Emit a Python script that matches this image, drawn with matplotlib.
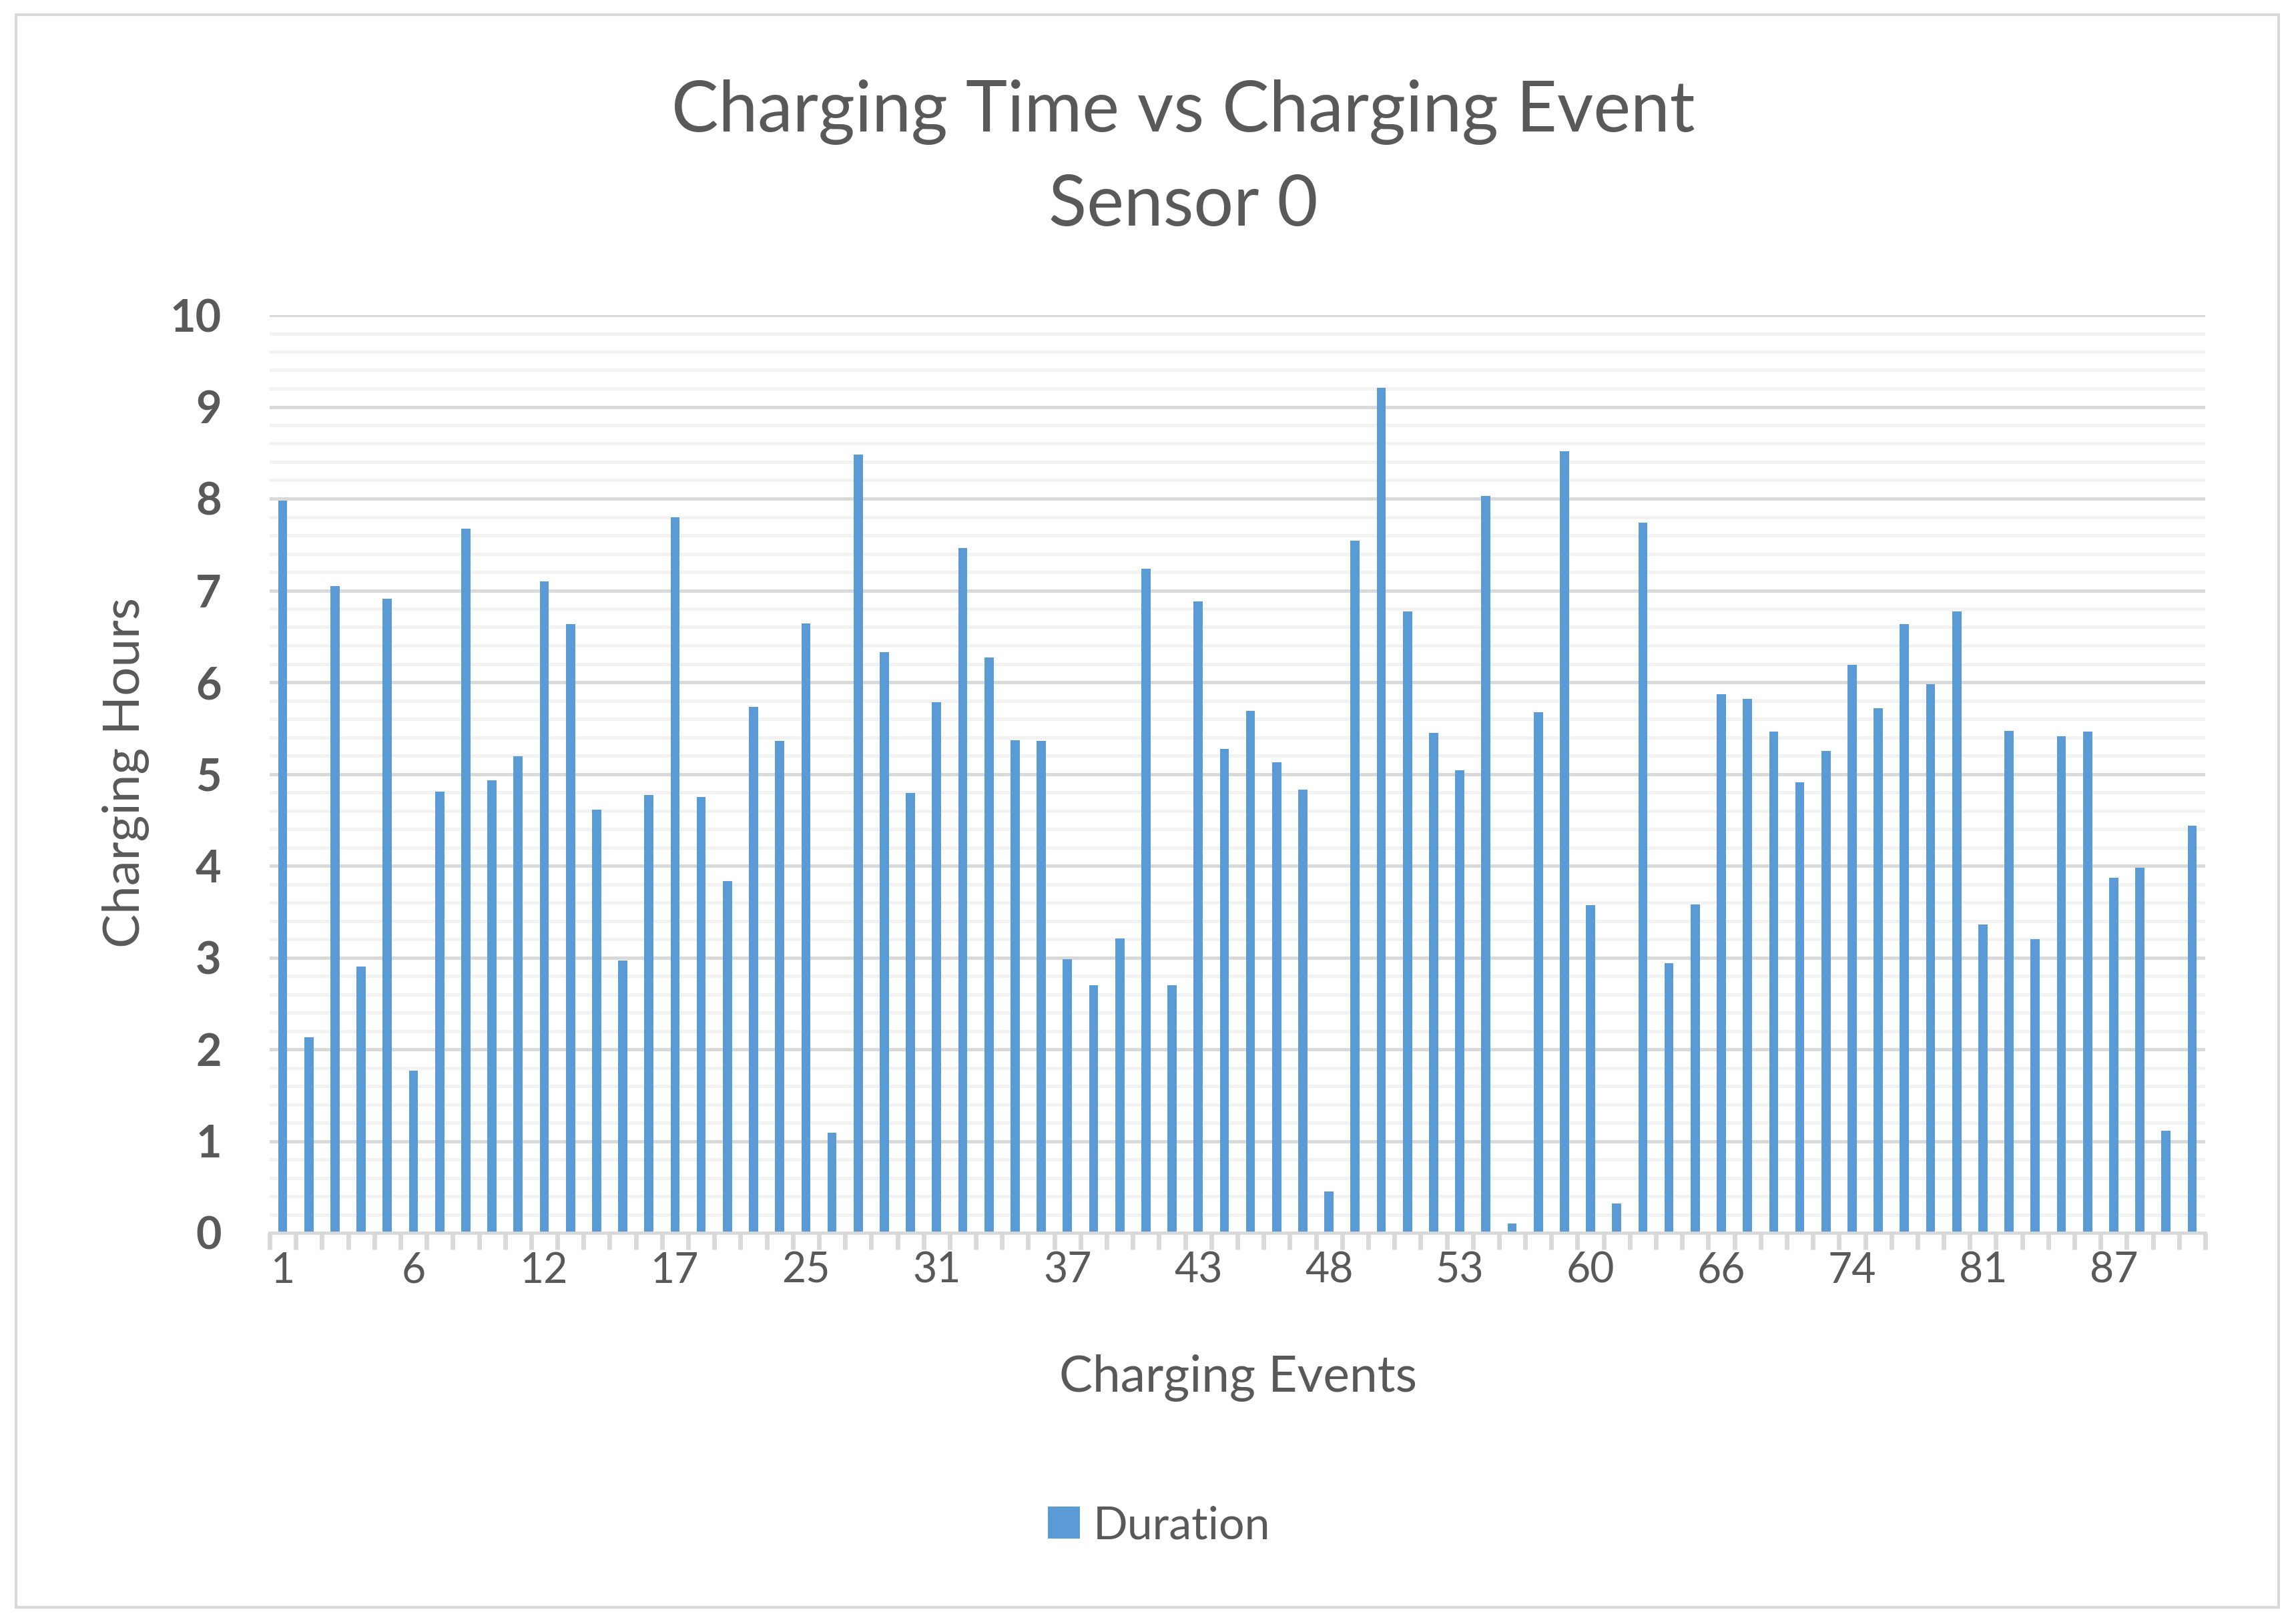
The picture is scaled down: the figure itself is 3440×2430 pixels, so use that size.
import matplotlib.pyplot as plt
from matplotlib.patches import Rectangle
from matplotlib.ticker import MultipleLocator

plt.rcParams['font.family'] = ['Lato', 'DejaVu Sans']

# Charging hours per event (74 events)
duration = [
    7.98, 2.13, 7.05, 2.90, 6.91, 1.77, 4.81, 7.67, 4.93, 5.19,
    7.10, 6.63, 4.61, 2.97, 4.77, 7.80, 4.75, 3.83, 5.73, 5.36,
    6.64, 1.09, 8.48, 6.33, 4.79, 5.78, 7.46, 6.27, 5.37, 5.36,
    2.98, 2.70, 3.21, 7.24, 2.70, 6.88, 5.27, 5.69, 5.13, 4.83,
    0.45, 7.54, 9.21, 6.77, 5.45, 5.04, 8.03, 0.10, 5.67, 8.52,
    3.57, 0.32, 7.74, 2.94, 3.58, 5.87, 5.82, 5.46, 4.91, 5.25,
    6.19, 5.72, 6.63, 5.98, 6.77, 3.36, 5.47, 3.20, 5.41, 5.46,
    3.87, 3.98, 1.11, 4.44,
]
# event numbers shown on the axis (every fifth category)
tick_labels = ['1', '6', '12', '17', '25', '31', '37', '43', '48', '53',
               '60', '66', '74', '81', '87']

blue = '#5B9BD5'
grey_txt = '#595959'
grid_major = '#D9D9D9'
grid_minor = '#F2F2F2'

fig = plt.figure(figsize=(34.4, 24.3), dpi=100)
W, H = 3440, 2430
ax = fig.add_axes([404 / W, 1 - 1847 / H, (3304 - 404) / W, (1847 - 472) / H])

n = len(duration)
x = list(range(n))
ax.bar(x, duration, width=0.35, color=blue, zorder=3, label='Duration')

ax.set_xlim(-0.5, n - 0.5)
ax.set_ylim(0, 10)
ax.yaxis.set_major_locator(MultipleLocator(1))
ax.yaxis.set_minor_locator(MultipleLocator(0.2))
ax.grid(which='major', axis='y', color=grid_major, lw=3.6, zorder=1)
ax.grid(which='minor', axis='y', color=grid_minor, lw=3.6, zorder=0)
ax.tick_params(axis='y', which='both', length=0, pad=52, labelsize=48,
               labelcolor=grey_txt)
for t in ax.get_yticklabels():
    t.set_fontweight('bold')

# category boundary ticks, labels every fifth category
ax.set_xticks([i - 0.5 for i in range(n + 1)])
ax.set_xticklabels([])
ax.tick_params(axis='x', which='major', length=18, width=5, color=grid_major)
ax.set_xticks(x[::5], tick_labels, minor=True)
ax.tick_params(axis='x', which='minor', length=0, pad=20, labelsize=45,
               labelcolor=grey_txt)

for s in ['top', 'right', 'left']:
    ax.spines[s].set_visible(False)
ax.spines['bottom'].set_color(grid_major)
ax.spines['bottom'].set_linewidth(3.5)
ax.spines['bottom'].set_zorder(4)

fig.text(1773 / W, 1 - 168 / H, 'Charging Time vs Charging Event',
         ha='center', va='center', fontsize=76, color=grey_txt)
fig.text(1773 / W, 1 - 308 / H, 'Sensor 0', ha='center', va='center',
         fontsize=76, color=grey_txt)
fig.text(1855 / W, 1 - 2065 / H, 'Charging Events', ha='center', va='center',
         fontsize=54, color=grey_txt)
fig.text(189 / W, 1 - 1158 / H, 'Charging Hours', ha='center', va='center',
         rotation=90, fontsize=55, color=grey_txt)

fig.legend(loc='center', bbox_to_anchor=(1737 / W, 1 - 2286 / H), frameon=False,
           fontsize=49, labelcolor=grey_txt, handlelength=0.7, handleheight=0.7,
           handletextpad=0.3)

fig.add_artist(Rectangle((24 / W, 22 / H), (3414 - 24) / W, (2408 - 22) / H,
                         transform=fig.transFigure, fill=False,
                         edgecolor=grid_major, lw=3))

fig.savefig('out.png', dpi=100, facecolor='white')
